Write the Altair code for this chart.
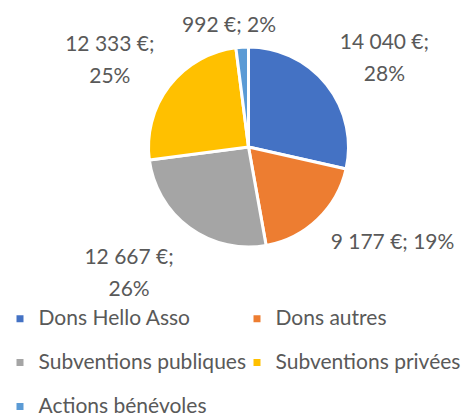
import altair as alt
import pandas as pd

categories = ["Dons Hello Asso", "Dons autres", "Subventions publiques", "Subventions privées", "Actions bénévoles"]
values = [14040, 9177, 12667, 12333, 992]
percents = ["28%", "19%", "26%", "25%", "2%"]
colors = ["#4472C4", "#ED7D31", "#A5A5A5", "#FFC000", "#5B9BD5"]
# label line layout as in the original (two lines or one line)
two_lines = [True, False, True, True, False]


def fmt(v):
    return f"{v:,}".replace(",", " ") + " €;"


labels = [
    fmt(v) + ("\n" if tl else " ") + p
    for v, p, tl in zip(values, percents, two_lines)
]

df = pd.DataFrame({
    "cat": categories,
    "value": values,
    "label": labels,
    "idx": list(range(len(categories))),
})

FONT = "Lato"
TXT = "#595959"
FS = 21

base = alt.Chart(df).encode(
    theta=alt.Theta("value:Q", stack=True),
    order=alt.Order("idx:Q"),
)

pie = base.mark_arc(outerRadius=100, stroke="white", strokeWidth=3).encode(
    color=alt.Color(
        "cat:N",
        scale=alt.Scale(domain=categories, range=colors),
        legend=alt.Legend(
            title=None,
            orient="none",
            direction="horizontal",
            legendX=-89,
            legendY=300,
            columns=2,
            columnPadding=0,
            rowPadding=22,
            symbolType="square",
            symbolSize=49,
            symbolStrokeWidth=0,
            labelFont=FONT,
            labelFontSize=FS,
            labelColor=TXT,
            labelOffset=8,
            labelLimit=300,
        ),
    )
)

offsets = {
    "Dons Hello Asso": (7, -1),
    "Dons autres": (30, -23),
    "Subventions publiques": (-22, -22),
    "Subventions privées": (-8, -1),
    "Actions bénévoles": (-9, 44),
}

text_layers = []
for c in categories:
    dx, dy = offsets[c]
    t = base.mark_text(
        radius=165,
        font=FONT,
        fontSize=FS,
        color=TXT,
        lineBreak="\n",
        lineHeight=32,
        align="center",
        baseline="middle",
        dx=dx,
        dy=dy,
    ).encode(
        text=alt.condition(alt.datum.cat == c, "label:N", alt.value("")),
    )
    text_layers.append(t)

chart = alt.layer(pie, *text_layers).properties(
    width=300,
    height=278,
    padding={"left": 90.5, "top": 0, "right": 67.5, "bottom": 130},
    autosize=alt.AutoSizeParams(type="none"),
).configure_view(stroke=None).configure(background="white")

chart.save("out.html", embed_options={"renderer": "svg", "actions": False})
